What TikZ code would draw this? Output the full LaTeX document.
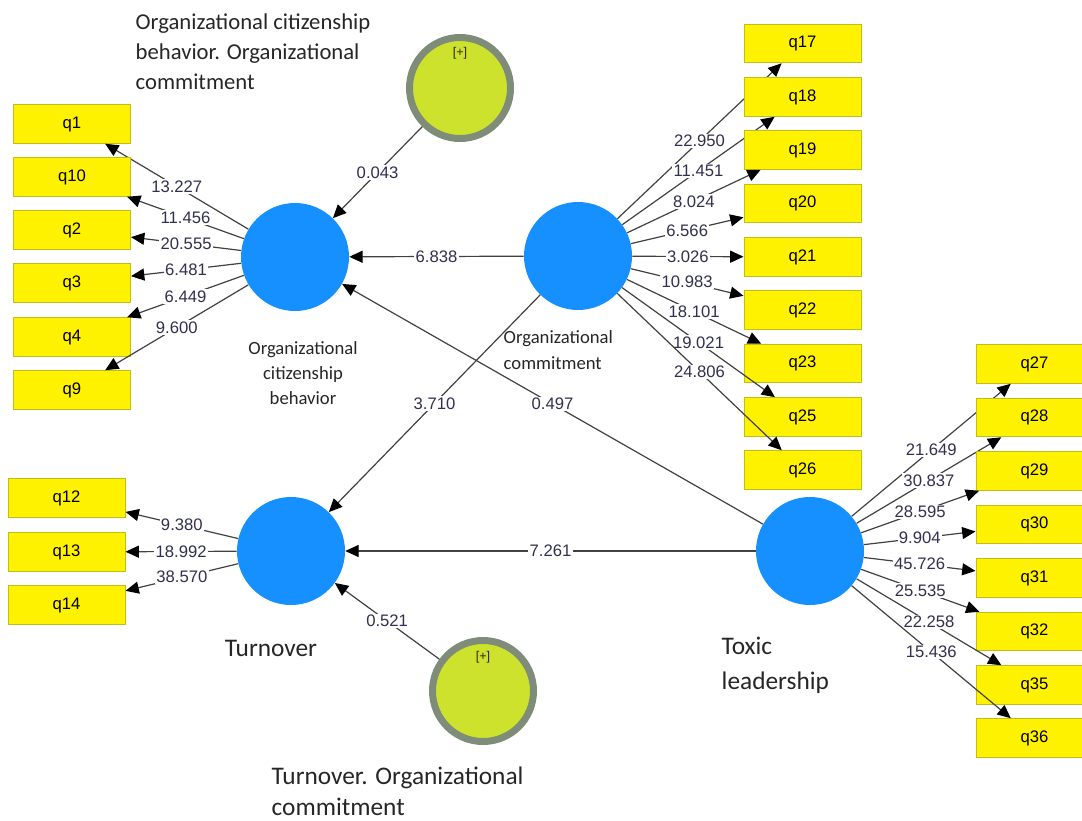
\documentclass[tikz,border=0pt]{standalone}
\usepackage{fontspec}
\setmainfont{Carlito}
\newfontfamily\plsfont{Liberation Sans}
\usepackage{tikz}
\usetikzlibrary{arrows.meta, positioning, calc}

\definecolor{lvblue}{RGB}{22,143,255}
\definecolor{modfill}{RGB}{205,226,44}
\definecolor{modring}{RGB}{127,140,122}
\definecolor{mvborder}{RGB}{190,190,30}
\definecolor{wgtcol}{RGB}{50,48,80}
\definecolor{pathcol}{RGB}{65,65,65}

\begin{document}
\begin{tikzpicture}[
    x=0.75pt, y=-0.75pt,
    latent/.style={circle, fill=lvblue, minimum size=81pt, inner sep=0pt},
    moderator/.style={circle, fill=modfill, draw=modring, line width=5.25pt, minimum size=75.75pt, inner sep=0pt},
    indicator/.style={rectangle, fill=yellow, draw=mvborder, line width=0.75pt, minimum width=87.75pt, minimum height=28.9pt, inner sep=0pt, font=\plsfont\fontsize{12.5}{14}\selectfont},
    arrow/.style={-{Triangle[length=10pt, width=9pt, color=black]}, draw=pathcol, line width=0.9pt},
    weight/.style={midway, fill=white, inner sep=1pt, text=wgtcol, font=\plsfont\fontsize{12.5}{14}\selectfont},
    lvname/.style={text=black!85, align=left},
    plustag/.style={text=black!70!brown, font=\plsfont\fontsize{9.5}{10}\selectfont}
]
    \useasboundingbox (0,0) rectangle (1082,821);

    % Latent variables
    \node[latent] (ocb) at (295,257) {};
    \node[latent] (oc) at (578,256) {};
    \node[latent] (to) at (291,551) {};
    \node[latent] (tl) at (810,551) {};

    % Interaction terms
    \node[moderator] (mod1) at (460,88) {};
    \node[plustag] (plus1) at (460,53) {[+]};
    \node[moderator] (mod2) at (483,691) {};
    \node[plustag] (plus2) at (483,657) {[+]};

    % Names
    \node[lvname, anchor=west, font=\fontsize{17}{22.5}\selectfont] (mod1name) at (131,52)
        {Organizational citizenship\\behavior. Organizational\\commitment};
    \node[lvname, align=center, font=\fontsize{14}{18.75}\selectfont] (ocbname) at (303,373)
        {Organizational\\citizenship\\behavior};
    \node[lvname, anchor=west, font=\fontsize{14}{19.5}\selectfont] (ocname) at (499,350)
        {Organizational\\commitment};
    \node[lvname, font=\fontsize{19}{24}\selectfont] (toname) at (271,648) {Turnover};
    \node[lvname, anchor=west, font=\fontsize{19}{26}\selectfont] (tlname) at (717,665)
        {Toxic\\leadership};
    \node[lvname, anchor=west, font=\fontsize{19}{23}\selectfont] (mod2name) at (267,791)
        {Turnover. Organizational\\commitment};

    % Outer model
    \foreach \q/\y/\w in {q1/124/13.227, q10/177/11.456, q2/230/20.555, q3/283/6.481, q4/337/6.449, q9/390/9.600} {
        \node[indicator] (\q) at (72,\y) {\q};
        \draw[arrow] (ocb) -- node[weight] {\w} (\q);
    }
    \foreach \q/\y/\w in {q12/498/9.380, q13/552/18.992, q14/605/38.570} {
        \node[indicator] (\q) at (66.5,\y) {\q};
        \draw[arrow] (to) -- node[weight] {\w} (\q);
    }
    \foreach \q/\y/\w in {q17/43.5/22.950, q18/97/11.451, q19/150/8.024, q20/203.5/6.566, q21/257/3.026,
                          q22/310/10.983, q23/363.5/18.101, q25/417/19.021, q26/470/24.806} {
        \node[indicator] (\q) at (802.5,\y) {\q};
        \draw[arrow] (oc) -- node[weight] {\w} (\q);
    }
    \foreach \q/\y/\w in {q27/364/21.649, q28/417.5/30.837, q29/471/28.595, q30/524.5/9.904,
                          q31/578/45.726, q32/631.5/25.535, q35/685/22.258, q36/738/15.436} {
        \node[indicator] (\q) at (1034.5,\y) {\q};
        \draw[arrow] (tl) -- node[weight] {\w} (\q);
    }

    % Inner model
    \draw[arrow] (mod1) -- node[weight] {0.043} (ocb);
    \draw[arrow] (oc) -- node[weight] {6.838} (ocb);
    \draw[arrow] (oc) -- node[weight] {3.710} (to);
    \draw[arrow] (tl) -- node[weight] {0.497} (ocb);
    \draw[arrow] (tl) -- node[weight] {7.261} (to);
    \draw[arrow] (mod2) -- node[weight] {0.521} (to);

\end{tikzpicture}
\end{document}
